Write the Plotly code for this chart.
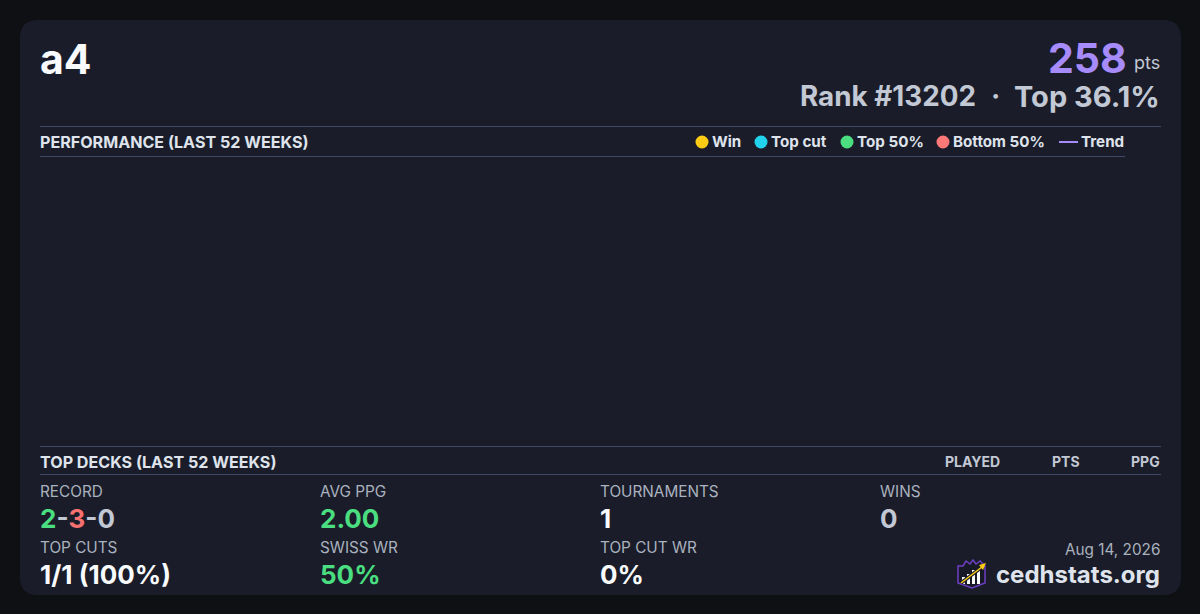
import plotly.graph_objects as go

# card texts
player = "a4"
points = "258"
rank_text = "Rank #13202"
sep_text = "·"
top_text = "Top 36.1%"
date_text = "Aug 14, 2026"
site = "cedhstats.org"

legend_names = ["Win", "Top cut", "Top 50%", "Bottom 50%"]
legend_colors = ["#ffcc15", "#22d3ee", "#4ade80", "#ff7878"]
legend_x = [702, 761, 847, 943]
trend_color = "#a78bfa"

deck_cols = ["PLAYED", "PTS", "PPG"]
deck_cols_x = [1000, 1080, 1160]

stat_x = [40, 320, 600, 880]
row1_labels = ["RECORD", "AVG PPG", "TOURNAMENTS", "WINS"]
row1_values = [
    '<span style="color:#4ade80">2</span>-<span style="color:#f87171">3</span>-0',
    "2.00", "1", "0",
]
row1_colors = ["#c2c8d4", "#4ade80", "#f8fafc", "#c2c8d4"]
row2_labels = ["TOP CUTS", "SWISS WR", "TOP CUT WR"]
row2_values = ["1/1 (100%)", "50%", "0%"]
row2_colors = ["#f8fafc", "#4ade80", "#f8fafc"]

BG = "#0e1014"
CARD = "#1a1d29"
LINE = "#3f4b66"
MUTED = "#aab2bf"
HEAD = "#dfe3ec"
FONT = "Inter"

fig = go.Figure()


def label(x, y, text, size, color, weight=400, anchor="left"):
    fig.add_annotation(x=x, y=y, text=text, showarrow=False, xanchor=anchor, yanchor="middle",
                       borderpad=0, borderwidth=0,
                       font=dict(family=FONT, size=size, color=color, weight=weight))


def rule(x0, x1, y):
    fig.add_shape(type="line", x0=x0, x1=x1, y0=y, y1=y, line=dict(color=LINE, width=1))


#card background with rounded corners
fig.add_shape(type="path", fillcolor=CARD, line_width=0, layer="below",
              path="M 38 20 L 1163 20 Q 1181 20 1181 38 L 1181 577 Q 1181 595 1163 595 "
                   "L 38 595 Q 20 595 20 577 L 20 38 Q 20 20 38 20 Z")

#header
label(40, 59, player, 41, "#f8fafc", 700)
label(1127, 58, points, 41, trend_color, 700, "right")
label(1160, 62, "pts", 18, "#c2c8d4", 400, "right")
label(976, 96, rank_text, 27.8, "#c2c8d4", 700, "right")
label(995, 96, sep_text, 28, "#c2c8d4", 700, "center")
label(1160, 96, top_text, 29, "#c2c8d4", 700, "right")

#performance section
rule(40, 1161, 126.5)
rule(40, 1125, 156.5)
label(40, 141.5, "PERFORMANCE (LAST 52 WEEKS)", 16.1, HEAD, 700)
for name, color, x in zip(legend_names, legend_colors, legend_x):
    fig.add_shape(type="circle", x0=x - 6.5, x1=x + 6.5, y0=135.5, y1=148.5, fillcolor=color, line_width=0)
    label(x + 10, 141.5, name, 15.2, HEAD, 700)
fig.add_shape(type="line", x0=1059, x1=1078, y0=142, y1=142, line=dict(color=trend_color, width=2))
label(1081, 141.5, "Trend", 15.2, HEAD, 700)

#top decks section
rule(40, 1161, 446.5)
rule(40, 1161, 474.5)
label(40, 461.5, "TOP DECKS (LAST 52 WEEKS)", 16.1, HEAD, 700)
for name, x in zip(deck_cols, deck_cols_x):
    label(x, 461.5, name, 14, "#c2c8d4", 700, "right")

#stats rows
for x, name, value, color in zip(stat_x, row1_labels, row1_values, row1_colors):
    label(x, 491, name, 15.3, MUTED)
    label(x, 518, value, 26, color, 700)
for x, name, value, color in zip(stat_x, row2_labels, row2_values, row2_colors):
    label(x, 547, name, 15.3, MUTED)
    label(x, 574, value, 26, color, 700)

#footer
label(1160, 549.5, date_text, 15.3, MUTED, 400, "right")
label(1160, 574, site, 24, HEAD, 700, "right")

#logo
fig.add_shape(type="path", line=dict(color="#6d3fc4", width=1.5), fillcolor="#171a26",
              path="M 958 566 L 963 566 L 966 561 L 970 564 L 973 560 L 976 564 L 980 561 L 985 566 "
                   "L 985 583 L 972 588 L 958 583 Z")
for bar_x, top in [(962, 577), (967, 574), (972, 570), (977, 571)]:
    fig.add_shape(type="rect", x0=bar_x, x1=bar_x + 3, y0=top, y1=584, fillcolor="#f8fafc", line_width=0)
fig.add_shape(type="line", x0=961, x1=982, y0=583, y1=567, line=dict(color="#1a1d29", width=3.5))
fig.add_shape(type="line", x0=961, x1=982, y0=583, y1=567, line=dict(color="#facc15", width=1.5))
fig.add_shape(type="path", fillcolor="#facc15", line_width=0, path="M 986 563 L 983 570 L 979 565 Z")

fig.update_layout(
    width=1200, height=614, autosize=False,
    margin=dict(l=0, r=0, t=0, b=0),
    paper_bgcolor=BG, plot_bgcolor=BG,
    showlegend=False,
    xaxis=dict(range=[0, 1200], visible=False, fixedrange=True),
    yaxis=dict(range=[614, 0], visible=False, fixedrange=True),
)
fig.write_html("out.html", config={"displayModeBar": False},
               post_script="document.body.style.margin='0';document.body.style.overflow='hidden';")
